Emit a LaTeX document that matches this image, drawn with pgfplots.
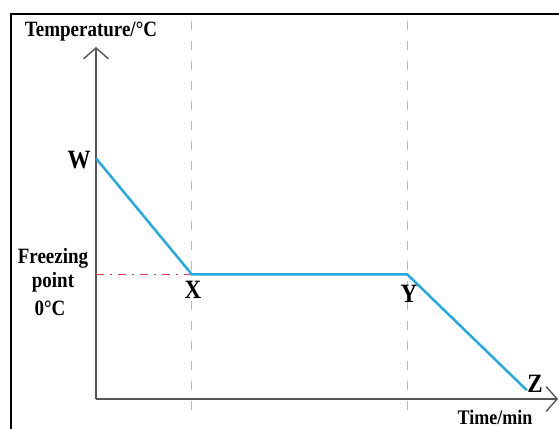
\documentclass[border=0pt]{standalone}
\usepackage{fontspec}
\setmainfont{Liberation Serif}
\usepackage{pgfplots}
\pgfplotsset{compat=1.18}
\usetikzlibrary{arrows.meta}

\definecolor{curve}{RGB}{35,170,225}
\definecolor{frz}{RGB}{230,60,80}
\definecolor{axgray}{RGB}{85,85,85}
\definecolor{guide}{RGB}{185,185,185}

% tall serif labels, as in the picture
\newcommand{\tl}[2]{\scalebox{1}[1.15]{\fontsize{#1}{#1}\selectfont\bfseries #2}}

\begin{document}
\begin{tikzpicture}[x=1pt,y=1pt]
	\useasboundingbox (0,0) rectangle (559,428);
	\draw[line width=2.4pt] (11,-30) rectangle (620,414);

	\begin{axis}[
			at                = {(96pt,29pt)},
			anchor            = south west,
			scale only axis,
			width             = 462pt,
			height            = 352pt,
			axis lines        = left,
			axis line style   = {axgray, line width=1.4pt,
			                     -{Straight Barb[length=11pt,width=25pt]}},
			xmin              = 0,
			xmax              = 19.3,
			ymin              = -21.5,
			ymax              = 39.2,
			xtick             = \empty,
			ytick             = \empty,
			clip              = false
		]

		% guide lines
		\addplot [guide, line width=0.9pt, dash pattern=on 9pt off 11pt]
		coordinates {(4,-23.4)(4,43.8)};
		\addplot [guide, line width=0.9pt, dash pattern=on 9pt off 11pt]
		coordinates {(13,-23.4)(13,43.8)};

		% freezing point
		\addplot [frz, line width=1.4pt, dash pattern=on 8pt off 6pt on 2pt off 6pt]
		coordinates {(0,0)(4,0)};

		% cooling curve
		\addplot [curve, line width=2.5pt]
		coordinates {(0,20)(4,0)(13,0)(18,-20)};
	\end{axis}

	\node at (91,396) {\tl{19}{Temperature/°C}};
	\node at (53,170) {\tl{19}{Freezing}};
	\node at (53,146) {\tl{19}{point}};
	\node at (50,120) {\tl{19}{0°C}};
	\node at (79,268) {\tl{23}{W}};
	\node at (193,138) {\tl{23}{X}};
	\node at (409,134) {\tl{23}{Y}};
	\node at (535,44) {\tl{23}{Z}};
	\node[anchor=south, inner sep=0pt] at (495,3) {\tl{18}{Time/min}};
\end{tikzpicture}
\end{document}
